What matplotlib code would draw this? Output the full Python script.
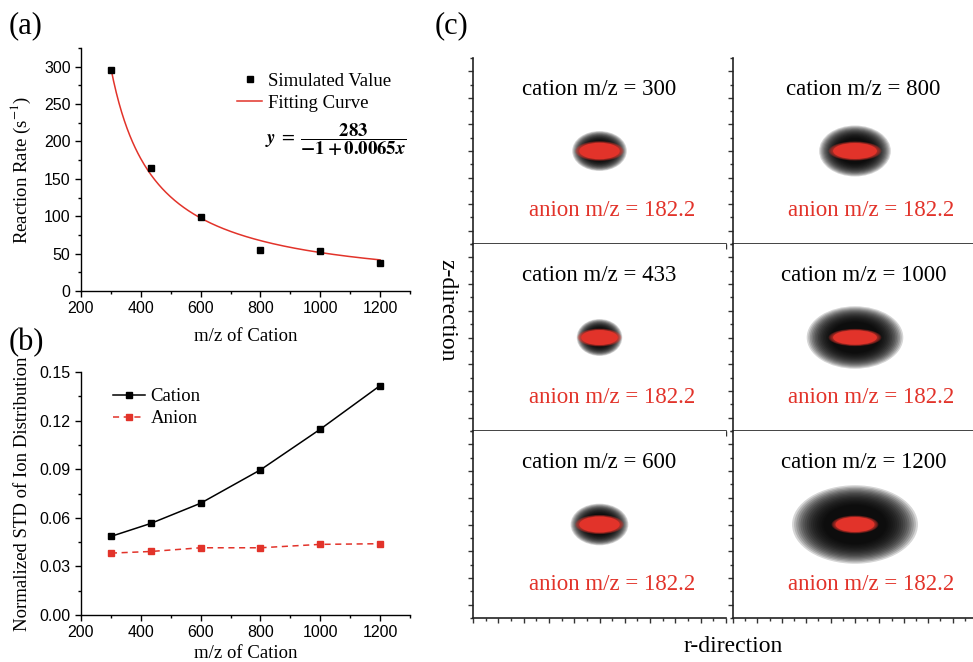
import matplotlib
matplotlib.use("Agg")
import matplotlib.pyplot as plt
import numpy as np
from matplotlib.patches import Ellipse
from matplotlib.ticker import MultipleLocator, FormatStrFormatter

# ---------------- data ----------------
mz_cation = [300, 433, 600, 800, 1000, 1200]
reaction_rate = [295, 165, 99, 55, 54, 37]
fit_a, fit_b, fit_c = 283.0, -1.0, 0.0065   # y = a / (b + c x)

std_cation = [0.0485, 0.0565, 0.069, 0.0896, 0.1147, 0.1416]
std_anion = [0.0382, 0.0392, 0.0415, 0.0415, 0.0436, 0.0440]

# panel (c): cloud extents (r-width, z-height) in plot units
cloud_labels = [300, 800, 433, 1000, 600, 1200]
cation_w = [1.8, 2.45, 1.5, 3.3, 1.9, 4.3]
cation_h = [1.25, 1.6, 1.15, 1.95, 1.3, 2.45]
anion_w = [1.6, 1.8, 1.45, 1.8, 1.6, 1.6]
anion_h = [0.62, 0.6, 0.56, 0.54, 0.6, 0.56]
anion_mz = 182.2

RED = "#e2332a"
SERIF = "Liberation Serif"
SANS = "Liberation Sans"

plt.rcParams["mathtext.fontset"] = "stix"
plt.rcParams["font.family"] = SANS

W, H = 973, 662
fig = plt.figure(figsize=(W / 100, H / 100), dpi=100)


def px_axes(l, t, r, b):
    return fig.add_axes([l / W, 1 - b / H, (r - l) / W, (b - t) / H])


def style_xy(ax):
    for s in ("top", "right"):
        ax.spines[s].set_visible(False)
    for s in ("left", "bottom"):
        ax.spines[s].set_linewidth(1.0)
    ax.tick_params(which="both", direction="out", labelsize=11.5, width=1.0)
    ax.tick_params(which="major", length=4)
    ax.tick_params(which="minor", length=2)
    for lab in ax.get_xticklabels() + ax.get_yticklabels():
        lab.set_fontfamily(SANS)


# ---------------- (a) ----------------
axa = px_axes(81, 48, 410, 291)
xfit = np.linspace(min(mz_cation), max(mz_cation), 300)
yfit = fit_a / (fit_b + fit_c * xfit)
axa.plot(xfit, yfit, color=RED, lw=1.1, label="Fitting Curve", zorder=2)
axa.plot(mz_cation, reaction_rate, ls="none", marker="s", ms=5, color="black",
         label="Simulated Value", zorder=3)
axa.set_xlim(200, 1300)
axa.set_ylim(0, 325)
axa.xaxis.set_major_locator(MultipleLocator(200))
axa.xaxis.set_minor_locator(MultipleLocator(100))
axa.yaxis.set_major_locator(MultipleLocator(50))
axa.yaxis.set_minor_locator(MultipleLocator(25))
style_xy(axa)
axa.set_xlabel("m/z of Cation", fontfamily=SERIF, fontsize=13.5, labelpad=8)
axa.set_ylabel("Reaction Rate (s$^{-1}$)", fontfamily=SERIF, fontsize=13.5, labelpad=8)
h, l = axa.get_legend_handles_labels()
axa.legend([h[1], h[0]], [l[1], l[0]], loc="upper left", bbox_to_anchor=(0.474, 0.898),
           frameon=False, prop={"family": SERIF, "size": 13.5}, handlelength=1.35,
           handletextpad=0.3, labelspacing=0.25, borderaxespad=0, borderpad=0)
axa.text(0.56, 0.625,
         r"$\mathbfit{y}\;=\;\dfrac{\mathbf{283}}{\mathbf{-1+0.0065}\mathbfit{x}}$",
         transform=axa.transAxes, fontsize=13.5, ha="left", va="center")

fig.text(9 / W, 1 - 26 / H, "(a)", fontfamily=SERIF, fontsize=22, va="center", ha="left")

# ---------------- (b) ----------------
axb = px_axes(81, 372, 410, 615)
axb.plot(mz_cation, std_cation, color="black", lw=1.1, marker="s", ms=4.5, label="Cation")
axb.plot(mz_cation, std_anion, color=RED, lw=1.1, ls=(0, (4, 3)), marker="s", ms=4.5,
         label="Anion")
axb.set_xlim(200, 1300)
axb.set_ylim(0, 0.15)
axb.xaxis.set_major_locator(MultipleLocator(200))
axb.xaxis.set_minor_locator(MultipleLocator(100))
axb.yaxis.set_major_locator(MultipleLocator(0.03))
axb.yaxis.set_minor_locator(MultipleLocator(0.015))
axb.yaxis.set_major_formatter(FormatStrFormatter("%.2f"))
style_xy(axb)
axb.set_xlabel("m/z of Cation", fontfamily=SERIF, fontsize=13.5, labelpad=3)
axb.set_ylabel("Normalized STD of Ion Distribution", fontfamily=SERIF, fontsize=13.5,
               labelpad=6)
axb.legend(loc="upper left", bbox_to_anchor=(0.097, 0.933), frameon=False,
           prop={"family": SERIF, "size": 13.5}, handlelength=1.7, handletextpad=0.3,
           labelspacing=0.25, borderaxespad=0, borderpad=0)

fig.text(9 / W, 1 - 343 / H, "(b)", fontfamily=SERIF, fontsize=22, va="center", ha="left")

# ---------------- (c) ----------------
col_x = [(473, 726), (733, 977)]
row_y = [(58, 244), (244, 431), (431, 618)]
cat_tx = [0.50, 0.535]
an_tx = [0.55, 0.565]

n_layers = 16
for i, mz in enumerate(cloud_labels):
    r, c = divmod(i, 2)
    (l, rr), (t, b) = col_x[c], row_y[r]
    ax = px_axes(l, t, rr, b)
    ax.set_xlim(-5, 5)
    ax.set_ylim(-3.5, 3.5)
    for s in ("top", "right"):
        ax.spines[s].set_visible(False)
    for s in ("left", "bottom"):
        ax.spines[s].set_linewidth(1.2)
        ax.spines[s].set_color("#222222")
    ax.xaxis.set_major_locator(MultipleLocator(1))
    ax.xaxis.set_minor_locator(MultipleLocator(0.5))
    ax.yaxis.set_major_locator(MultipleLocator(1))
    ax.yaxis.set_minor_locator(MultipleLocator(0.5))
    ax.tick_params(which="both", direction="out", labelbottom=False, labelleft=False,
                   width=1.0, color="#333333")
    ax.tick_params(which="major", length=3.5)
    ax.tick_params(which="minor", length=2)
    # cation cloud: many faint nested ellipses -> density falling off outward
    for k in range(n_layers):
        scale = 1.2 - 0.6 * k / (n_layers - 1)
        ax.add_patch(Ellipse((0, 0), cation_w[i] * scale, cation_h[i] * scale,
                             facecolor="black", edgecolor="none", alpha=0.16))
    # anion core
    for k in range(4):
        scale = 1.2 - 0.05 * k
        ax.add_patch(Ellipse((0, 0), anion_w[i] * scale, anion_h[i] * scale,
                             facecolor=RED, edgecolor="none", alpha=0.25))
    ax.add_patch(Ellipse((0, 0), anion_w[i], anion_h[i], facecolor=RED,
                         edgecolor="none"))
    ax.text(cat_tx[c], 0.83, f"cation m/z = {mz}", transform=ax.transAxes, ha="center",
            va="center", fontfamily=SERIF, fontsize=16.5, color="black")
    ax.text(an_tx[c], 0.18, f"anion m/z = {anion_mz}", transform=ax.transAxes,
            ha="center", va="center", fontfamily=SERIF, fontsize=16.5, color=RED)

fig.text(435 / W, 1 - 26 / H, "(c)", fontfamily=SERIF, fontsize=22, va="center", ha="left")
fig.text(447 / W, 1 - 310 / H, "z-direction", fontfamily=SERIF, fontsize=17,
         rotation=270, va="center", ha="center")
fig.text(733 / W, 1 - 646 / H, "r-direction", fontfamily=SERIF, fontsize=17,
         va="center", ha="center")

fig.savefig("out.png", dpi=100)
